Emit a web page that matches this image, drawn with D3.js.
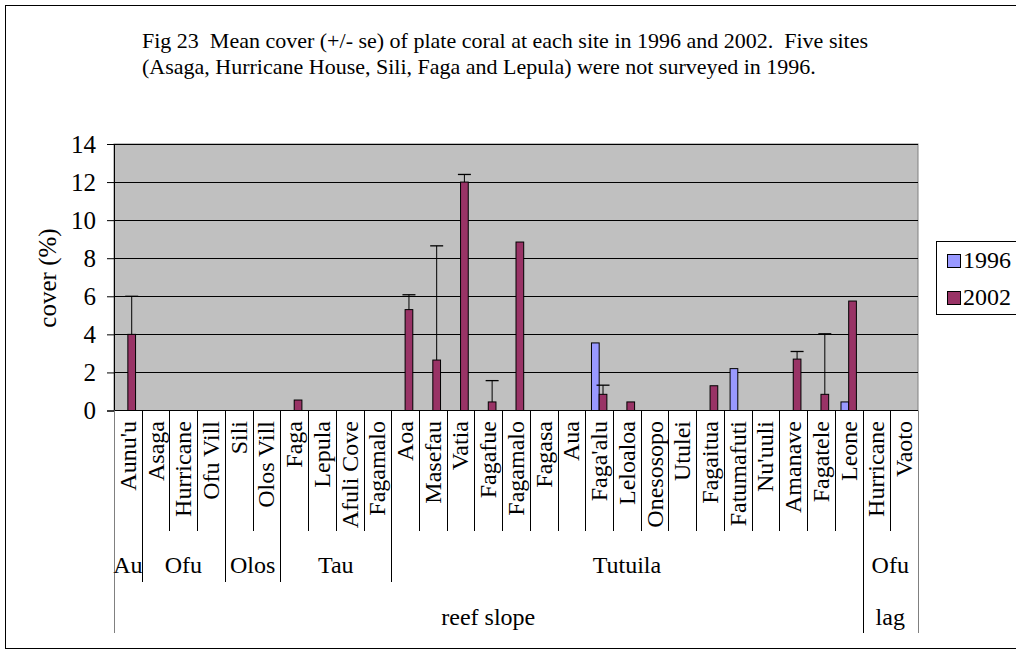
<!DOCTYPE html>
<html><head><meta charset="utf-8">
<script src="https://cdn.jsdelivr.net/npm/d3@7"></script>
<style>
body{margin:0;background:#fff;overflow:hidden}
text{font-family:"Liberation Serif","Times New Roman",serif;fill:#000;white-space:pre}
</style>
</head><body><svg id="c" width="1016" height="653"></svg>
<script>
// ---- data ----
const sites = ["Aunu'u","Asaga","Hurricane","Ofu Vill","Sili","Olos Vill","Faga","Lepula","Afuli Cove","Fagamalo",
  "Aoa","Masefau","Vatia","Fagafue","Fagamalo","Fagasa","Aua","Faga'alu","Leloaloa","Onesosopo","Utulei",
  "Fagaitua","Fatumafuti","Nu'uuli","Amanave","Fagatele","Leone","Hurricane","Vaoto"];
const series = ["1996","2002"];
const v1996 = [null,null,null,null,null,null,null,null,null,null,
  null,null,null,null,null,null,null,3.55,null,null,null,
  null,2.2,null,null,null,0.45,null,null];
const v2002 = [4.0,null,null,null,null,null,0.55,null,null,null,
  5.3,2.65,12.0,0.45,8.85,null,null,0.85,0.45,null,null,
  1.3,null,null,2.7,0.85,5.75,null,null];
const se2002 = [2.0,null,null,null,null,null,null,null,null,null,
  0.78,6.0,0.4,1.12,null,null,null,0.48,null,null,null,
  null,null,null,0.4,3.18,null,null,null];
const islandLabels = ["Au","Ofu","Olos","Tau","Tutuila","Ofu"];
const islandSizes = [1,3,2,4,17,2];
const habitatLabels = ["reef slope","lag"];
const habitatSizes = [27,2];
const yTicks = [0,2,4,6,8,10,12,14];
const titleLines = ["Fig 23  Mean cover (+/- se) of plate coral at each site in 1996 and 2002.  Five sites",
  "(Asaga, Hurricane House, Sili, Faga and Lepula) were not surveyed in 1996."];
const yTitle = "cover (%)";
const colors = {"1996":"#9999FF","2002":"#993366"};

// ---- layout ----
const svg = d3.select("#c");
const L=114, R=918, T=144, B=410.5;
const x0 = d3.scaleBand().domain(d3.range(sites.length)).range([L,R]).padding(0);
const bw = x0.bandwidth();
const barW = 7.7;
const x1 = d3.scaleBand().domain(series).range([bw/2-barW, bw/2+barW]).padding(0);
const y = d3.scaleLinear().domain([0,14]).range([B,T]);

// outer border
svg.append("rect").attr("x",5.5).attr("y",5.5).attr("width",1100).attr("height",643)
  .attr("fill","#fff").attr("stroke","#000");

// title
svg.selectAll("text.title").data(titleLines).enter().append("text")
  .attr("x",142).attr("y",(d,i)=>48+i*25.5).attr("font-size",22).text(d=>d);

// plot background
svg.append("rect").attr("x",L).attr("y",T).attr("width",R-L).attr("height",B-T)
  .attr("fill","#C0C0C0").attr("stroke","#808080");

// gridlines
svg.selectAll("line.grid").data(yTicks.filter(d=>d>0)).enter().append("line")
  .attr("x1",L).attr("x2",R).attr("y1",d=>Math.round(y(d))+0.5).attr("y2",d=>Math.round(y(d))+0.5)
  .attr("stroke","#000");

// y axis
const yAxis = d3.axisLeft(y).tickValues(yTicks).tickSize(7).tickPadding(11).tickFormat(d3.format("d"));
const gy = svg.append("g").attr("transform",`translate(${L},0)`).call(yAxis);
gy.select(".domain").attr("stroke","#000");
gy.selectAll(".tick line").attr("stroke","#000");
gy.selectAll(".tick text").attr("font-size",25).attr("font-family","Liberation Serif").attr("fill","#000");

// y title
svg.append("text").attr("transform","translate(56,278) rotate(-90)").attr("text-anchor","middle")
  .attr("font-size",25).text(yTitle);

// bars
const rows = [];
sites.forEach((s,i)=>{
  if(v1996[i]!=null) rows.push({i,s:"1996",v:v1996[i],e:null});
  if(v2002[i]!=null) rows.push({i,s:"2002",v:v2002[i],e:se2002[i]});
});
svg.selectAll("rect.bar").data(rows).enter().append("rect")
  .attr("x",d=>x0(d.i)+x1(d.s)).attr("width",x1.bandwidth())
  .attr("y",d=>y(d.v)).attr("height",d=>B-y(d.v))
  .attr("fill",d=>colors[d.s]).attr("stroke","#000").attr("stroke-width",1);

// error bars (upper only)
const eb = rows.filter(d=>d.e!=null);
const cx = d=>x0(d.i)+x1(d.s)+x1.bandwidth()/2;
svg.selectAll("line.eb").data(eb).enter().append("line")
  .attr("x1",cx).attr("x2",cx).attr("y1",d=>y(d.v)).attr("y2",d=>y(d.v+d.e)).attr("stroke","#000");
svg.selectAll("line.cap").data(eb).enter().append("line")
  .attr("x1",d=>cx(d)-6.5).attr("x2",d=>cx(d)+6.5).attr("y1",d=>y(d.v+d.e)).attr("y2",d=>y(d.v+d.e))
  .attr("stroke","#000").attr("stroke-width",1.3);

// x axis line
svg.append("line").attr("x1",L).attr("x2",R).attr("y1",B).attr("y2",B).attr("stroke","#000");

// separators
const islandB = d3.cumsum([0,...islandSizes]);
const habB = d3.cumsum([0,...habitatSizes]);
const bx = k => k<sites.length ? x0(k) : R;
d3.range(sites.length+1).forEach(k=>{
  let y2 = 531;
  if(islandB.includes(k)) y2 = 582;
  if(habB.includes(k)) y2 = 633;
  const edge = (k===0||k===sites.length);
  svg.append("line").attr("x1",Math.round(bx(k))+0.5).attr("x2",Math.round(bx(k))+0.5)
    .attr("y1",B).attr("y2",y2).attr("stroke",edge?"#808080":"#000");
});

// category labels
svg.selectAll("text.cat").data(sites).enter().append("text")
  .attr("transform",(d,i)=>`translate(${x0(i)+bw/2},421) rotate(-90)`)
  .attr("text-anchor","end").attr("dy","0.33em").attr("font-size",24).text(d=>d);

// island labels
svg.selectAll("text.isl").data(islandLabels).enter().append("text")
  .attr("x",(d,i)=>(bx(islandB[i])+bx(islandB[i+1]))/2).attr("y",573)
  .attr("text-anchor","middle").attr("font-size",24).text(d=>d);

// habitat labels
svg.selectAll("text.hab").data(habitatLabels).enter().append("text")
  .attr("x",(d,i)=>(bx(habB[i])+bx(habB[i+1]))/2).attr("y",625)
  .attr("text-anchor","middle").attr("font-size",24).text(d=>d);

// legend
const lg = svg.append("g");
lg.append("rect").attr("x",936.5).attr("y",241.5).attr("width",120).attr("height",73)
  .attr("fill","#fff").attr("stroke","#000");
series.forEach((s,i)=>{
  lg.append("rect").attr("x",947.5).attr("y",254.5+i*37).attr("width",13).attr("height",13)
    .attr("fill",colors[s]).attr("stroke","#000");
  lg.append("text").attr("x",963).attr("y",268+i*37).attr("font-size",24).text(s);
});
</script></body></html>
